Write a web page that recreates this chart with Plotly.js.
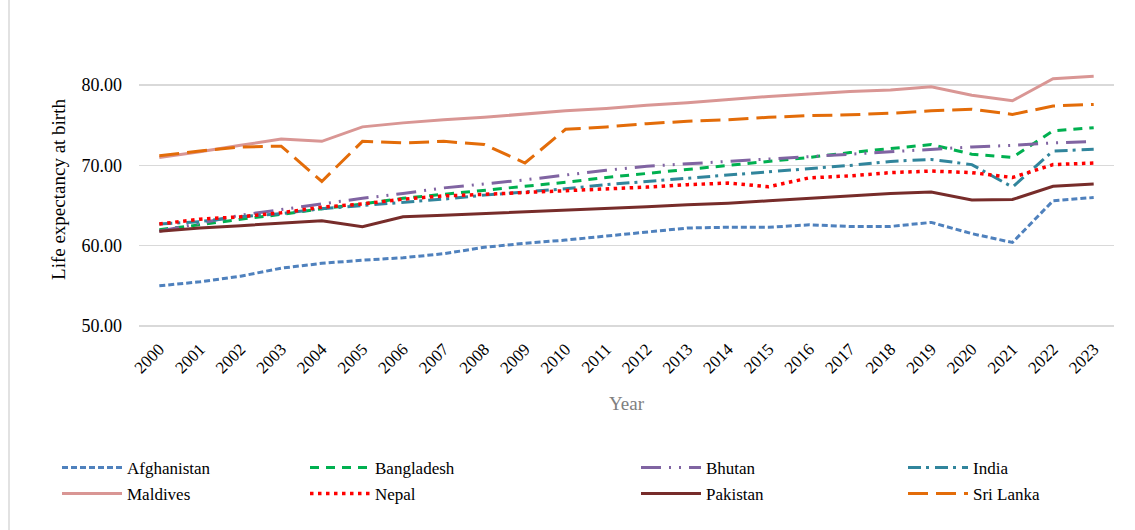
<!DOCTYPE html>
<html>
<head>
<meta charset="utf-8">
<script src="https://cdn.plot.ly/plotly-3.0.1.min.js"></script>
<style>
html,body{margin:0;padding:0;background:#fff;}
#chart{width:1135px;height:530px;}
</style>
</head>
<body>
<div id="chart"></div>
<script>
const years = ["2000","2001","2002","2003","2004","2005","2006","2007","2008","2009","2010","2011","2012","2013","2014","2015","2016","2017","2018","2019","2020","2021","2022","2023"];

const afghanistan = [55.0,55.5,56.2,57.2,57.8,58.2,58.5,59.0,59.8,60.3,60.7,61.2,61.7,62.2,62.3,62.3,62.6,62.4,62.4,62.9,61.5,60.4,65.6,66.0];
const bangladesh  = [62.0,62.6,63.3,63.9,64.6,65.2,65.9,66.4,66.9,67.4,67.9,68.5,69.0,69.5,70.0,70.5,71.0,71.6,72.1,72.6,71.4,71.0,74.3,74.7];
const bhutan      = [61.8,62.8,63.8,64.5,65.2,65.9,66.5,67.2,67.7,68.2,68.8,69.4,69.9,70.2,70.5,70.8,71.1,71.4,71.7,72.0,72.3,72.5,72.8,73.0];
const india       = [62.7,63.0,63.6,64.0,64.6,65.0,65.4,65.8,66.3,66.7,67.1,67.6,68.0,68.4,68.8,69.2,69.6,70.0,70.5,70.75,70.1,67.3,71.8,72.0];
const maldives    = [71.0,71.7,72.5,73.3,73.0,74.8,75.3,75.7,76.0,76.4,76.8,77.1,77.5,77.8,78.2,78.6,78.9,79.2,79.4,79.8,78.75,78.05,80.8,81.1];
const nepal       = [62.7,63.3,63.6,64.1,64.8,65.2,65.8,66.2,66.4,66.6,66.8,67.0,67.3,67.6,67.8,67.35,68.45,68.7,69.1,69.3,69.1,68.5,70.1,70.3];
const pakistan    = [61.8,62.2,62.5,62.8,63.1,62.35,63.6,63.8,64.0,64.2,64.4,64.6,64.85,65.1,65.3,65.6,65.9,66.2,66.5,66.7,65.7,65.75,67.4,67.7];
const sriLanka    = [71.2,71.8,72.3,72.4,68.0,73.0,72.8,73.0,72.6,70.3,74.5,74.8,75.2,75.5,75.7,76.0,76.2,76.3,76.5,76.8,77.0,76.35,77.4,77.6];

const yTicks = [50,60,70,80];

const FONT = "Liberation Serif, Times New Roman, serif";

const seriesDefs = [
  {name:"Afghanistan", y:afghanistan, color:"#4f81bd", dash:"6px,3px", width:3, legend:"legend"},
  {name:"Bangladesh",  y:bangladesh,  color:"#00b050", dash:"9px,7px", width:3, legend:"legend2"},
  {name:"Bhutan",      y:bhutan,      color:"#8064a2", dash:"20px,8px,2px,8px,2px,8px", width:3, legend:"legend3"},
  {name:"India",       y:india,       color:"#31859c", dash:"13px,5px,3px,6px", width:3, legend:"legend4"},
  {name:"Maldives",    y:maldives,    color:"#d99694", dash:"solid", width:3, legend:"legend5"},
  {name:"Nepal",       y:nepal,       color:"#ff0000", dash:"3.5px,4.5px", width:3.5, legend:"legend6"},
  {name:"Pakistan",    y:pakistan,    color:"#772c2a", dash:"solid", width:3, legend:"legend7"},
  {name:"Sri Lanka",   y:sriLanka,    color:"#e36c09", dash:"20px,8px", width:3, legend:"legend8"}
];

const traces = seriesDefs.map(s => ({
  type:"scatter", mode:"lines", name:s.name, x:years, y:s.y,
  line:{color:s.color, dash:s.dash, width:s.width},
  legend:s.legend, hoverinfo:"skip"
}));

// plot area: x 139..1114, y 45..334 (value 50 sits at y=326)
const PB = 334;
function px2x(px){ return (px-139)/975; }
function py2y(py){ return (PB-py)/(PB-45); }
const colX = [57, 305, 636, 903];
const rowY = [468, 494];
function leg(ci, ri){
  return {x:px2x(colX[ci]), y:py2y(rowY[ri]), xanchor:"left", yanchor:"middle",
    orientation:"v", bgcolor:"rgba(0,0,0,0)", borderwidth:0, itemwidth:60,
    font:{family:FONT, size:17, color:"#000"}};
}

const layout = {
  width:1135, height:530,
  margin:{l:139, r:21, t:45, b:530-PB},
  paper_bgcolor:"#fff", plot_bgcolor:"#fff",
  font:{family:FONT, color:"#000"},
  showlegend:true,
  xaxis:{
    type:"category", range:[-0.5, 23.5],
    showgrid:false, showline:false, zeroline:false, ticks:"",
    tickangle:-45, ticklabelstandoff:1, tickfont:{family:FONT, size:17, color:"#000"},
    title:{text:"Year", font:{family:FONT, size:19, color:"#808080"}, standoff:20}
  },
  yaxis:{
    range:[49,85], tickvals:yTicks, tickformat:".2f",
    showgrid:true, gridcolor:"#d9d9d9", gridwidth:1.5,
    showline:false, zeroline:false, ticks:"", ticklabelstandoff:16,
    tickfont:{family:FONT, size:18, color:"#000"},
    title:{text:"Life expectancy at birth", font:{family:FONT, size:19, color:"#000"}, standoff:10}
  },
  legend:leg(0,0), legend2:leg(1,0), legend3:leg(2,0), legend4:leg(3,0),
  legend5:leg(0,1), legend6:leg(1,1), legend7:leg(2,1), legend8:leg(3,1),
  shapes:[
    {type:"line", xref:"paper", yref:"paper", x0:px2x(9), x1:px2x(9), y0:py2y(0), y1:py2y(530),
     line:{color:"#d9d9d9", width:1.5}, layer:"below"}
  ]
};

Plotly.newPlot("chart", traces, layout, {displayModeBar:false, staticPlot:true});
</script>
</body>
</html>
